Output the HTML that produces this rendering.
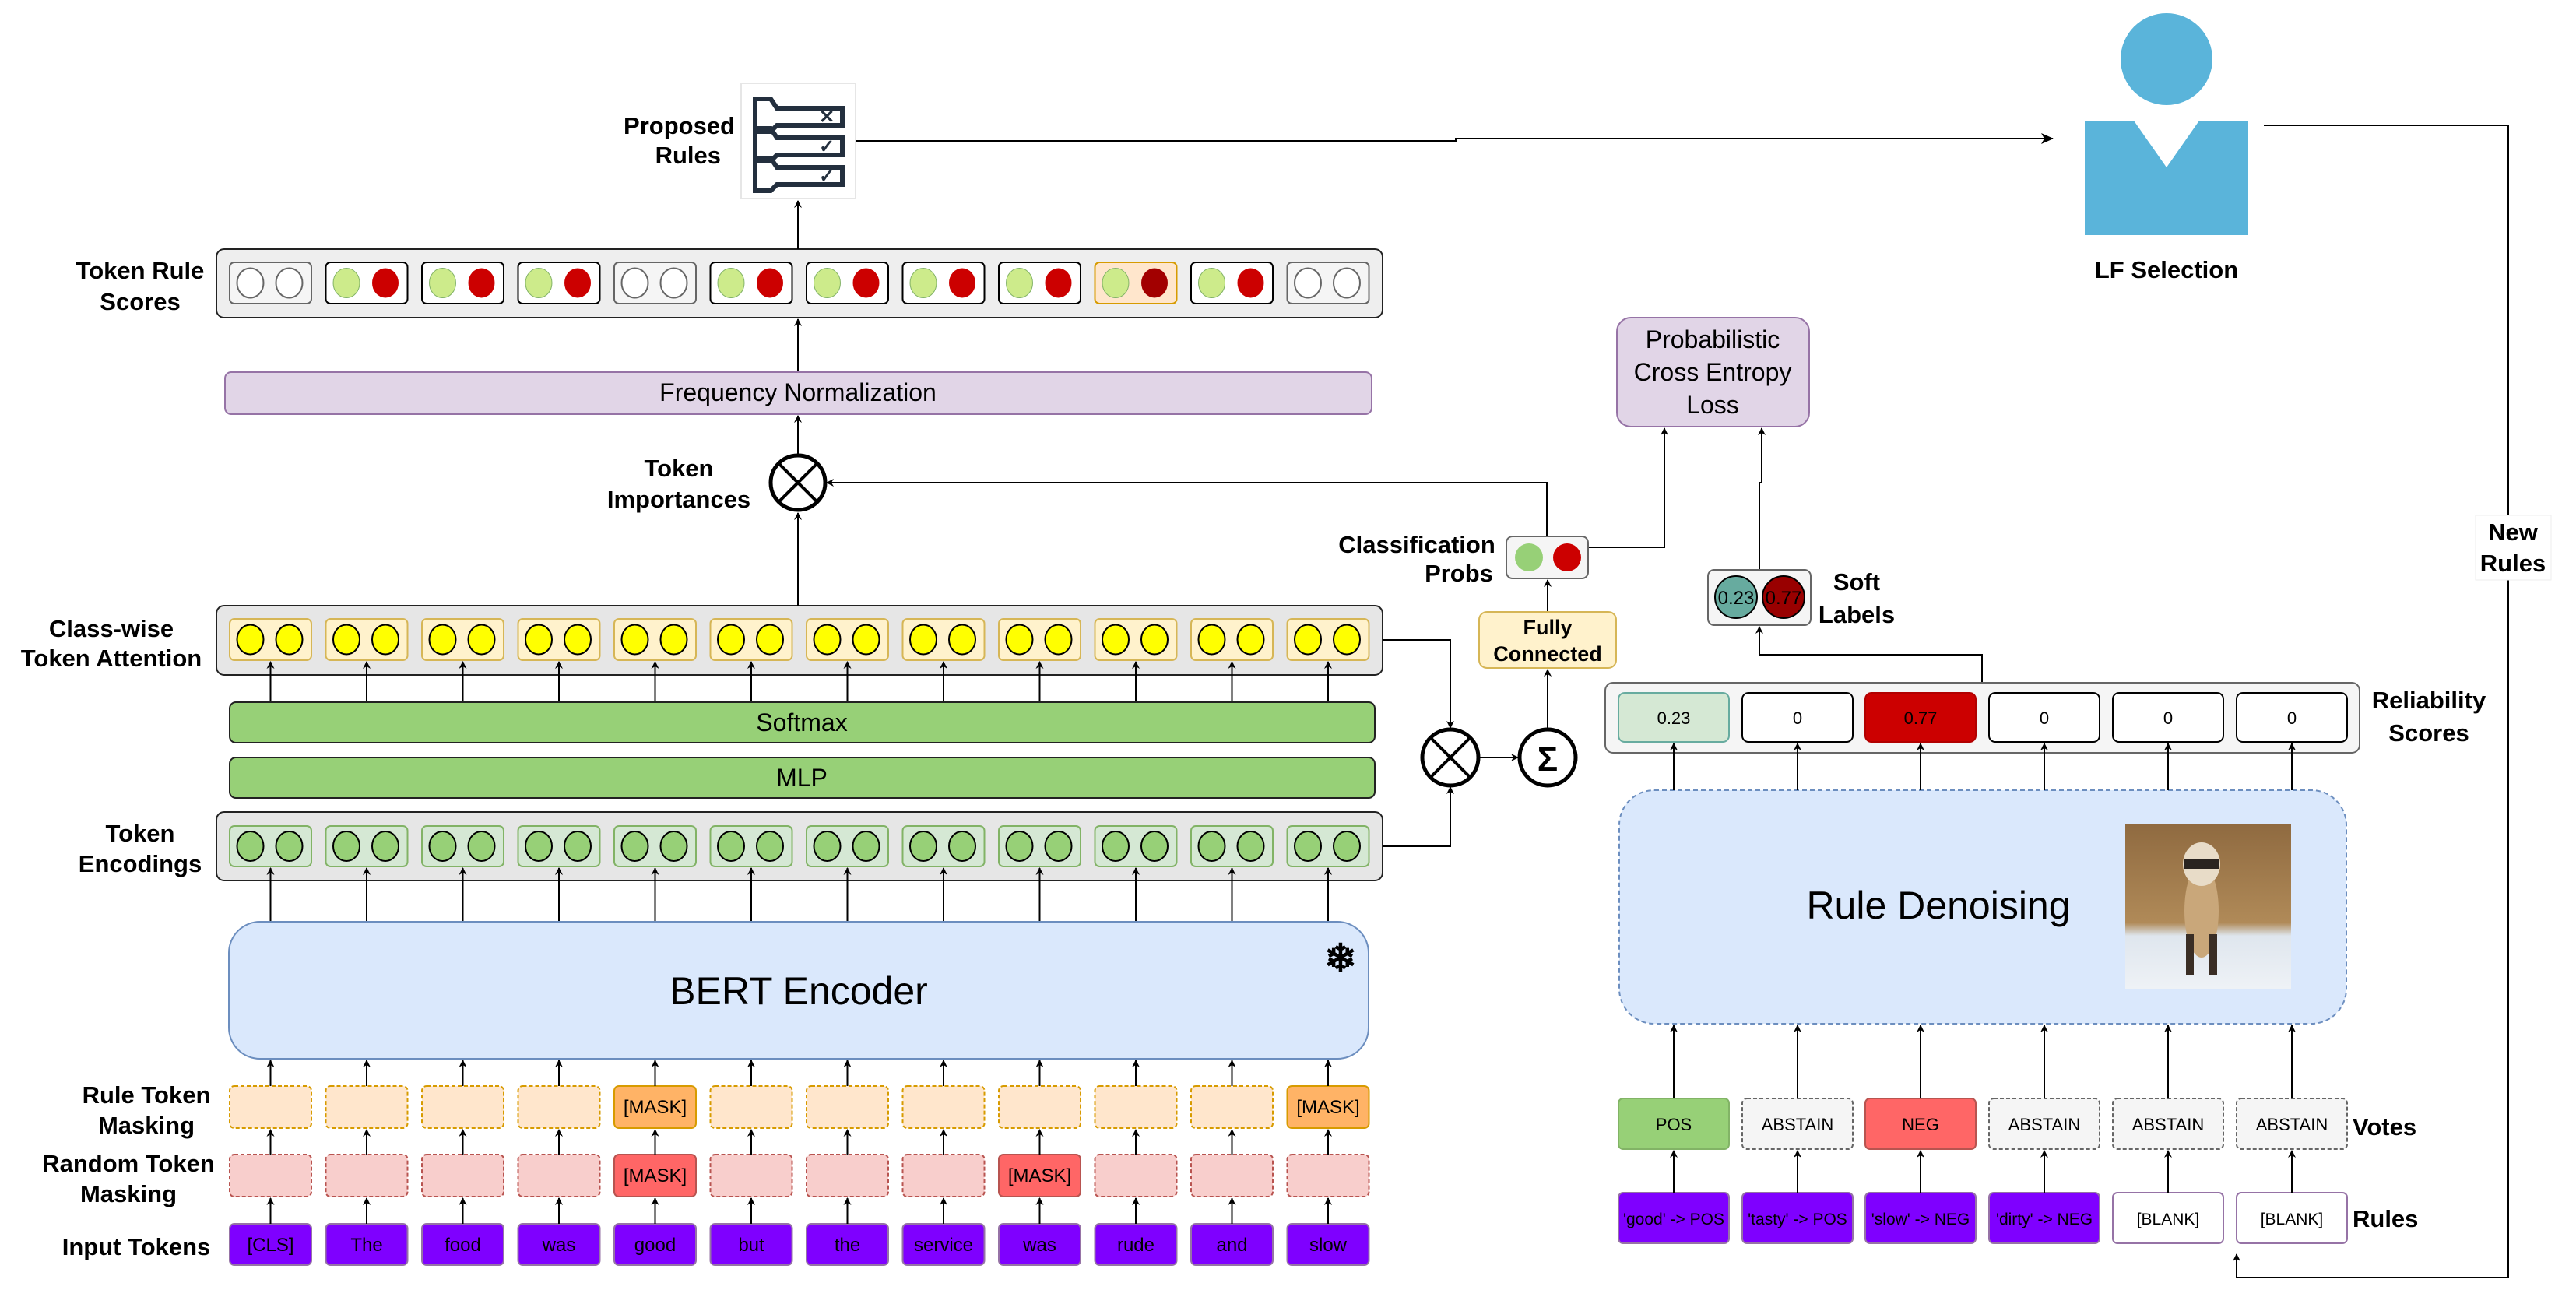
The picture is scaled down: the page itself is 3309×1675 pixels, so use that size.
<!DOCTYPE html>
<html><head><meta charset="utf-8">
<style>
html,body{margin:0;padding:0;background:#fff;}
svg{display:block;font-family:"Liberation Sans",Arial,sans-serif;}
.lb{font-weight:bold;font-size:31px;fill:#000;}
.tk{font-size:24px;fill:#000;}
</style></head>
<body>
<svg id="s" width="3309" height="1675" viewBox="0 0 3309 1675" xmlns="http://www.w3.org/2000/svg">
<defs>
<marker id="a" markerWidth="10" markerHeight="10" refX="9" refY="5" orient="auto" markerUnits="userSpaceOnUse">
<path d="M0,0 L10,5 L0,10 L3,5 z" fill="#000"/></marker>
<marker id="b" markerWidth="16" markerHeight="16" refX="15" refY="8" orient="auto" markerUnits="userSpaceOnUse">
<path d="M0,1 L16,8 L0,15 L4,8 z" fill="#000"/></marker>
</defs>
<g id="shapes"></g>

<rect x="289" y="478" width="1473" height="54" rx="8" fill="#e1d5e7" stroke="#9673a6" stroke-width="2"/>
<text x="1025" y="515" text-anchor="middle" font-size="32">Frequency Normalization</text>
<rect x="295" y="902" width="1471" height="52" rx="8" fill="#97d077" stroke="#222" stroke-width="2"/>
<text x="1030" y="939" text-anchor="middle" font-size="32">Softmax</text>
<rect x="295" y="973" width="1471" height="52" rx="8" fill="#97d077" stroke="#222" stroke-width="2"/>
<text x="1030" y="1010" text-anchor="middle" font-size="32">MLP</text>
<rect x="294" y="1184" width="1464" height="176" rx="40" fill="#dae8fc" stroke="#6c8ebf" stroke-width="2"/>
<text x="1026" y="1290" text-anchor="middle" font-size="50">BERT Encoder</text>
<text x="1722" y="1248" text-anchor="middle" font-size="50" font-weight="bold">❄</text>

<text class="lb" text-anchor="middle"><tspan x="180" y="358">Token Rule</tspan><tspan x="180" y="398">Scores</tspan></text>
<text class="lb" text-anchor="end"><tspan x="944" y="172">Proposed</tspan><tspan x="926" y="210">Rules</tspan></text>
<text class="lb" text-anchor="middle"><tspan x="872" y="612">Token</tspan><tspan x="872" y="652">Importances</tspan></text>
<text class="lb" text-anchor="middle"><tspan x="143" y="818">Class-wise</tspan><tspan x="143" y="856">Token Attention</tspan></text>
<text class="lb" text-anchor="middle"><tspan x="180" y="1081">Token</tspan><tspan x="180" y="1120">Encodings</tspan></text>
<text class="lb" text-anchor="middle"><tspan x="188" y="1417">Rule Token</tspan><tspan x="188" y="1456">Masking</tspan></text>
<text class="lb" text-anchor="middle"><tspan x="165" y="1505">Random Token</tspan><tspan x="165" y="1544">Masking</tspan></text>
<text class="lb" text-anchor="middle"><tspan x="175" y="1612">Input Tokens</tspan></text>

<g class="tk" text-anchor="middle" fill="#000">
<text x="347.5" y="1607">[CLS]</text><text x="471" y="1607">The</text><text x="594.5" y="1607">food</text><text x="718" y="1607">was</text>
<text x="841.5" y="1607">good</text><text x="965" y="1607">but</text><text x="1088.5" y="1607">the</text><text x="1212" y="1607">service</text>
<text x="1335.5" y="1607">was</text><text x="1459" y="1607">rude</text><text x="1582.5" y="1607">and</text><text x="1706" y="1607">slow</text>
<text x="841.5" y="1518">[MASK]</text><text x="1335.5" y="1518">[MASK]</text>
<text x="841.5" y="1430">[MASK]</text><text x="1706" y="1430">[MASK]</text>
</g>

<rect x="952" y="107" width="147" height="148" fill="#fff" stroke="#e6e6e6" stroke-width="2"/>
<g fill="none" stroke="#232f3e" stroke-width="6">
<path d="M970,127 h20 l8,12 h84 v22 h-84 l-8,8 h-20 z"/>
<path d="M970,165 h20 l8,12 h84 v22 h-84 l-8,8 h-20 z"/>
<path d="M970,203 h20 l8,12 h84 v22 h-84 l-8,8 h-20 z"/>
</g>
<text x="1062" y="158" font-size="24" font-weight="bold" text-anchor="middle" fill="#232f3e">✕</text>
<text x="1062" y="196" font-size="24" font-weight="bold" text-anchor="middle" fill="#232f3e">✓</text>
<text x="1062" y="234" font-size="24" font-weight="bold" text-anchor="middle" fill="#232f3e">✓</text>

<ellipse cx="2783" cy="76" rx="59" ry="59" fill="#5ab4da"/>
<path d="M2678,155 H2741 L2783,215 L2825,155 H2888 V302 H2678 Z" fill="#5ab4da"/>
<text class="lb" x="2783" y="357" text-anchor="middle">LF Selection</text>

<rect x="2077" y="408" width="247" height="140" rx="18" fill="#e1d5e7" stroke="#9673a6" stroke-width="2"/>
<text font-size="32" text-anchor="middle"><tspan x="2200" y="447">Probabilistic</tspan><tspan x="2200" y="489">Cross Entropy</tspan><tspan x="2200" y="531">Loss</tspan></text>

<text class="lb" text-anchor="middle"><tspan x="1820" y="710">Classification</tspan><tspan x="1874" y="747">Probs</tspan></text>
<rect x="1935" y="689" width="105" height="54" rx="8" fill="#f5f5f5" stroke="#666" stroke-width="2"/>
<circle cx="1964" cy="716" r="18" fill="#97d077"/><circle cx="2013" cy="716" r="18" fill="#cc0000"/>
<rect x="1900" y="786" width="176" height="72" rx="10" fill="#fff2cc" stroke="#d6b656" stroke-width="2"/>
<text font-size="27" font-weight="bold" text-anchor="middle"><tspan x="1988" y="815">Fully</tspan><tspan x="1988" y="849">Connected</tspan></text>

<rect x="2194" y="732" width="132" height="71" rx="8" fill="#f5f5f5" stroke="#666" stroke-width="2"/>
<circle cx="2230" cy="767" r="27" fill="#67ab9f" stroke="#000" stroke-width="2"/>
<circle cx="2291" cy="767" r="27" fill="#990000" stroke="#000" stroke-width="2"/>
<text x="2230" y="776" font-size="24" text-anchor="middle">0.23</text>
<text x="2291" y="776" font-size="24" text-anchor="middle">0.77</text>
<text class="lb" text-anchor="middle"><tspan x="2385" y="758">Soft</tspan><tspan x="2385" y="800">Labels</tspan></text>

<rect x="2062" y="877" width="969" height="90" rx="10" fill="#f5f5f5" stroke="#666" stroke-width="2"/>
<text class="lb" text-anchor="middle"><tspan x="3120" y="910">Reliability</tspan><tspan x="3120" y="952">Scores</tspan></text>

<rect x="2080" y="1015" width="934" height="300" rx="45" fill="#dae8fc" stroke="#6c8ebf" stroke-width="2" stroke-dasharray="6,4"/>
<text x="2490" y="1180" font-size="50" text-anchor="middle">Rule Denoising</text>
<defs><linearGradient id="fg" x1="0" y1="0" x2="0" y2="1">
<stop offset="0" stop-color="#8f6a40"/><stop offset="0.6" stop-color="#b08a58"/><stop offset="0.68" stop-color="#dfe6ee"/><stop offset="1" stop-color="#eef2f6"/></linearGradient></defs>
<rect x="2730" y="1058" width="213" height="212" fill="url(#fg)"/>
<ellipse cx="2828" cy="1170" rx="22" ry="60" fill="#c9a77a"/>
<ellipse cx="2828" cy="1110" rx="24" ry="28" fill="#e8dcc8"/>
<rect x="2806" y="1104" width="44" height="12" fill="#2a2420"/>
<rect x="2808" y="1200" width="10" height="52" fill="#3a2e25"/><rect x="2838" y="1200" width="10" height="52" fill="#3a2e25"/>

<text class="lb" x="3022" y="1458">Votes</text>
<text class="lb" x="3022" y="1576">Rules</text>

<rect x="3180" y="662" width="97" height="83" fill="#fff" stroke="#eee" stroke-width="1"/>

<g id="front"></g>
<text class="lb" text-anchor="middle"><tspan x="3228" y="694">New</tspan><tspan x="3228" y="734">Rules</tspan></text>
</svg>
<script>
const NS="http://www.w3.org/2000/svg";
const G=document.getElementById('shapes'), F=document.getElementById('front');
function el(t,a,p){const e=document.createElementNS(NS,t);for(const k in a)e.setAttribute(k,a[k]);(p||G).appendChild(e);return e;}
function line(x1,y1,x2,y2,arr,p){el('line',{x1,y1,x2,y2,stroke:'#000','stroke-width':2,'marker-end':arr?'url(#a)':''},p);}
function poly(pts,arr,p){el('polyline',{points:pts,fill:'none',stroke:'#000','stroke-width':2,'marker-end':arr?'url(#a)':''},p);}
const cx=i=>347.5+123.5*i;
el('rect',{x:278,y:320,width:1498,height:88,rx:10,fill:'#eeeeee',stroke:'#222','stroke-width':2});
el('rect',{x:278,y:778,width:1498,height:89,rx:10,fill:'#e6e6e6',stroke:'#222','stroke-width':2});
el('rect',{x:278,y:1043,width:1498,height:88,rx:10,fill:'#e6e6e6',stroke:'#222','stroke-width':2});
for(let i=0;i<12;i++){
  const x=cx(i);
  const gray=(i==0||i==4||i==11), org=(i==9);
  el('rect',{x:x-52.5,y:337,width:105,height:53,rx:6,fill:gray?'#f5f5f5':org?'#ffe6cc':'#fff',stroke:gray?'#666':org?'#d79b00':'#000','stroke-width':2});
  el('ellipse',{cx:x-26,cy:363.5,rx:17,ry:19,fill:gray?'#fff':'#cdeb8b',stroke:gray?'#666':'#82b366','stroke-width':gray?2:1});
  el('ellipse',{cx:x+24,cy:363.5,rx:17,ry:19,fill:gray?'#fff':org?'#a20000':'#cc0000',stroke:gray?'#666':'none','stroke-width':2});
  el('rect',{x:x-52.5,y:795,width:105,height:53,rx:6,fill:'#fff2cc',stroke:'#d6b656','stroke-width':2});
  el('ellipse',{cx:x-26,cy:821.5,rx:17,ry:19,fill:'#ffff00',stroke:'#000','stroke-width':2});
  el('ellipse',{cx:x+24,cy:821.5,rx:17,ry:19,fill:'#ffff00',stroke:'#000','stroke-width':2});
  line(x,902,x,850,1);
  el('rect',{x:x-52.5,y:1061,width:105,height:52,rx:6,fill:'#d5e8d4',stroke:'#82b366','stroke-width':2});
  el('ellipse',{cx:x-26,cy:1087,rx:17,ry:19,fill:'#97d077',stroke:'#000','stroke-width':2});
  el('ellipse',{cx:x+24,cy:1087,rx:17,ry:19,fill:'#97d077',stroke:'#000','stroke-width':2});
  line(x,1184,x,1115,1);
  const rm=(i==4||i==11), dm=(i==4||i==8);
  el('rect',{x:x-52.5,y:1395,width:105,height:54,rx:6,fill:rm?'#ffb366':'#ffe6cc',stroke:'#d79b00','stroke-width':2,'stroke-dasharray':rm?'':'5,3'});
  el('rect',{x:x-52.5,y:1483,width:105,height:54,rx:6,fill:dm?'#ff6666':'#f8cecc',stroke:'#b85450','stroke-width':2,'stroke-dasharray':dm?'':'5,3'});
  el('rect',{x:x-52.5,y:1572,width:105,height:53,rx:6,fill:'#7f00ff',stroke:'#9673a6','stroke-width':2});
  line(x,1395,x,1362,1); line(x,1483,x,1451,1); line(x,1572,x,1539,1);
}
line(1025,778,1025,659,1);
el('circle',{cx:1025,cy:620,r:35,fill:'#fff',stroke:'#000','stroke-width':5});
el('path',{d:'M1000,595 L1050,645 M1050,595 L1000,645',stroke:'#000','stroke-width':4});
line(1025,583,1025,534,1); line(1025,478,1025,410,1); line(1025,320,1025,258,1);
poly('1987,689 1987,620 1062,620',1);
poly('1776,822 1863,822 1863,935',1);
poly('1776,1087 1863,1087 1863,1011',1);
el('circle',{cx:1863,cy:973,r:36,fill:'#fff',stroke:'#000','stroke-width':5});
el('path',{d:'M1838,948 L1888,998 M1888,948 L1838,998',stroke:'#000','stroke-width':4});
line(1901,973,1950,973,1);
el('circle',{cx:1988,cy:973,r:36,fill:'#fff',stroke:'#000','stroke-width':5});
const sg=el('text',{x:1988,y:990,'text-anchor':'middle','font-size':44,'font-weight':'bold'});sg.textContent='Σ';
line(1988,937,1988,860,1); line(1988,786,1988,745,1);
poly('2040,703 2138,703 2138,550',1);
poly('2260,732 2260,620 2263,620 2263,550',1);
poly('2546,877 2546,841 2260,841 2260,805',1);
poly('1099,181 1870,181 1870,178 2637,178',0);
el('line',{x1:2600,y1:178,x2:2637,y2:178,stroke:'#000','stroke-width':2,'marker-end':'url(#b)'});
poly('2908,161 3222,161 3222,1641 2873,1641 2873,1611',1);
const rx=[2150,2309,2467,2626,2785,2944], rv=['0.23','0','0.77','0','0','0'];
const vt=['POS','ABSTAIN','NEG','ABSTAIN','ABSTAIN','ABSTAIN'];
const ru=["'good' -> POS","'tasty' -> POS","'slow' -> NEG","'dirty' -> NEG",'[BLANK]','[BLANK]'];
for(let j=0;j<6;j++){
  const x=rx[j];
  el('rect',{x:x-71,y:890,width:142,height:63,rx:8,fill:j==0?'#d5e8d4':j==2?'#cc0000':'#fff',stroke:j==0?'#67ab9f':j==2?'#b20000':'#000','stroke-width':2},F);
  const t=el('text',{x:x,y:930,'text-anchor':'middle','font-size':22},F);t.textContent=rv[j];
  line(x,1015,x,955,1,F);
  el('rect',{x:x-71,y:1411,width:142,height:65,rx:6,fill:j==0?'#97d077':j==2?'#ff6666':'#f5f5f5',stroke:j==0?'#82b366':j==2?'#b85450':'#666','stroke-width':2,'stroke-dasharray':(j==0||j==2)?'':'5,3'},F);
  const v=el('text',{x:x,y:1452,'text-anchor':'middle','font-size':22},F);v.textContent=vt[j];
  line(x,1411,x,1317,1,F);
  el('rect',{x:x-71,y:1532,width:142,height:65,rx:6,fill:j<4?'#7f00ff':'#fff',stroke:'#9673a6','stroke-width':2},F);
  const r=el('text',{x:x,y:1573,'text-anchor':'middle','font-size':21},F);r.textContent=ru[j];
  line(x,1532,x,1478,1,F);
}
</script>
</body></html>
